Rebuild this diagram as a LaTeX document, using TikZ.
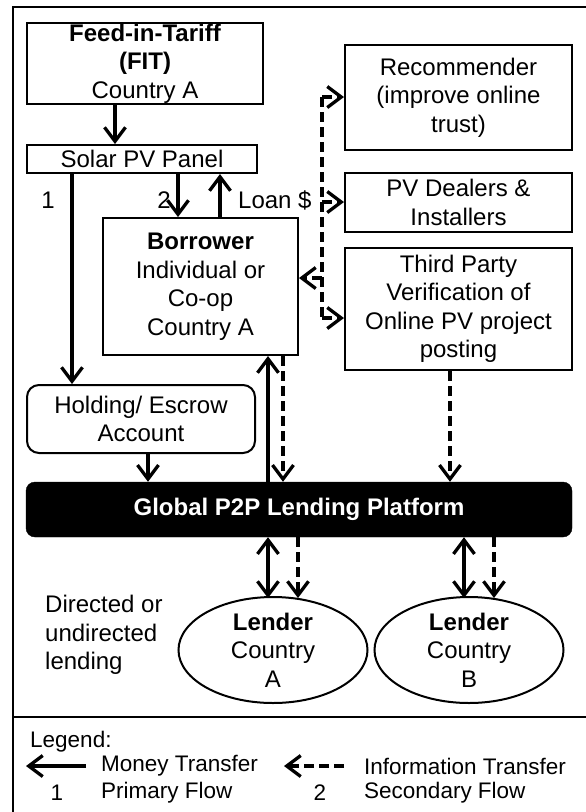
\documentclass[tikz,border=0pt]{standalone}
\usepackage{fontspec}
\setmainfont{Liberation Sans}
\usetikzlibrary{arrows.meta,shapes.geometric}
\begin{document}
\begin{tikzpicture}[x=1pt,y=-1pt,
  txt/.style={font=\fontsize{24}{28.5}\selectfont},
  legtxt/.style={font=\fontsize{22.5}{27}\selectfont,inner sep=0pt},
  box/.style={draw,line width=2pt,inner sep=0pt,align=center,txt},
  rbox/.style={box,rounded corners=12pt},
  oval/.style={draw,line width=2pt,ellipse,inner sep=0pt,align=center,txt},
  lbl/.style={txt,inner sep=0pt},
  hd/.tip={Straight Barb[length=14pt,width=21pt]},
  money/.style={line width=3.3pt,-hd},
  moneyboth/.style={line width=3.3pt,hd-hd},
  dline/.style={line width=3.3pt,dash pattern=on 10pt off 5pt},
  info/.style={dline,-hd},
  frame/.style={line width=2.4pt}
]
\useasboundingbox (0,0) rectangle (586,812);
\clip (0,0) rectangle (586,812);

% frame
\draw[frame] (13,815) -- (13,7) -- (590,7);
\draw[frame] (13,717) -- (590,717);

% nodes
\node[box, minimum width=236pt, minimum height=81pt] (fit) at (145,63.5)
  {\textbf{Feed-in-Tariff}\\\textbf{(FIT)}\\Country A};
\node[box, minimum width=230pt, minimum height=28pt] (solar) at (142,159) {Solar PV Panel};
\node[box, minimum width=195pt, minimum height=137pt] (borrower) at (200.5,286.5)
  {\textbf{Borrower}\\Individual or\\Co-op\\Country A};
\node[rbox, minimum width=228pt, minimum height=68pt] (holding) at (141,419)
  {Holding/ Escrow\\Account};
\node[draw, fill=black, rounded corners=9pt, minimum width=546pt, minimum height=55pt,
  inner sep=0pt, text=white, font=\fontsize{24}{28}\selectfont] (platform) at (299,509.5)
  {\textbf{Global P2P Lending Platform}};
\node[box, minimum width=227pt, minimum height=105pt] (rec) at (458.5,97.5)
  {Recommender\\(improve online\\trust)};
\node[box, minimum width=227pt, minimum height=59pt] (dealers) at (458.5,202.5)
  {PV Dealers \&\\Installers};
\node[box, minimum width=227pt, minimum height=122pt] (third) at (458.5,309)
  {Third Party\\Verification of\\Online PV project\\posting};
\node[oval, minimum width=189pt, minimum height=106pt] (lenderA) at (273,650)
  {\textbf{Lender}\\Country\\A};
\node[oval, minimum width=189pt, minimum height=106pt] (lenderB) at (469,650)
  {\textbf{Lender}\\Country\\B};

% labels
\node[lbl] (n1) at (48,200) {1};
\node[lbl] (n2) at (164,200) {2};
\node[lbl, anchor=west] (loan) at (238,200) {Loan \$};
\node[lbl, anchor=west, align=left] (dir) at (45,635) {Directed or\\undirected\\lending};

% column coordinates
\coordinate (c115) at (115,0);
\coordinate (c72) at (72,0);
\coordinate (c178) at (178,0);
\coordinate (c220) at (220,0);
\coordinate (c148) at (148,0);
\coordinate (c268) at (268,0);
\coordinate (c283) at (283,0);
\coordinate (c450) at (450,0);
\coordinate (c298) at (298,0);
\coordinate (c464) at (464,0);
\coordinate (c494) at (494,0);

% money flows
\draw[money] (fit.south -| c115) -- (solar.north -| c115);
\draw[money] (solar.south -| c72) -- (holding.north -| c72);
\draw[money] (solar.south -| c178) -- (borrower.north -| c178);
\draw[money] (borrower.north -| c220) -- (solar.south -| c220);
\draw[money] (holding.south -| c148) -- (platform.north -| c148);
\draw[money] (platform.north -| c268) -- (borrower.south -| c268);
\draw[moneyboth] (platform.south -| c268) -- ([yshift=-2pt]lenderA.north -| c268);
\draw[moneyboth] (platform.south -| c464) -- ([yshift=-2pt]lenderB.north -| c464);

% information flows
\coordinate (j1) at (322,97);
\coordinate (j2) at (322,202);
\coordinate (j3) at (322,278);
\coordinate (j4) at (322,318);
\draw[dline] (j1) -- (j4);
\draw[info] (j1) -- (rec.west |- j1);
\draw[info] (j2) -- (dealers.west |- j2);
\draw[info] (j4) -- (third.west |- j4);
\draw[info] (j3) -- (borrower.east |- j3);
\draw[info] (borrower.south -| c283) -- (platform.north -| c283);
\draw[info] (third.south -| c450) -- (platform.north -| c450);
\draw[info] (platform.south -| c298) -- ([yshift=-2pt]lenderA.north -| c298);
\draw[info] (platform.south -| c494) -- ([yshift=-2pt]lenderB.north -| c494);

% legend
\node[legtxt, anchor=west] (leg) at (30,742) {Legend:};
\coordinate (m1) at (86,766);
\coordinate (m2) at (26,766);
\coordinate (i1) at (344,766);
\coordinate (i2) at (284,766);
\draw[money] (m1) -- (m2);
\draw[info] (i1) -- (i2);
\node[legtxt, anchor=west] (lm) at (101,766) {Money Transfer};
\node[legtxt, anchor=west] (li) at (364,766) {Information Transfer};
\node[legtxt] (l1) at (57,793) {1};
\node[legtxt, anchor=west] (lp) at (101,793) {Primary Flow};
\node[legtxt] (l2) at (320,793) {2};
\node[legtxt, anchor=west] (ls) at (364,793) {Secondary Flow};
\end{tikzpicture}
\end{document}
